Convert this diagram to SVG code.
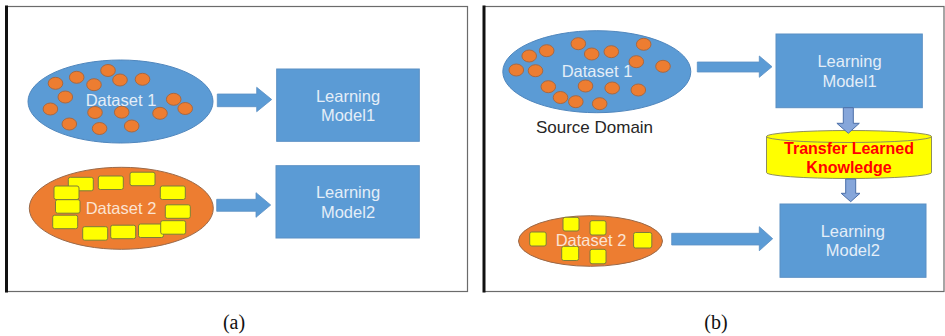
<svg xmlns="http://www.w3.org/2000/svg" width="945" height="336" viewBox="0 0 945 336">
  <style>
    .frame { fill: #ffffff; stroke: #6b6b6b; stroke-width: 1.2; }
    .frame-edge { stroke: #111111; stroke-width: 3; }
    .caption { font-family: "Liberation Serif", "Times New Roman", serif; font-size: 20px; fill: #111111; text-anchor: middle; }
    .blue { fill: #5B9BD5; stroke: #4F86BD; stroke-width: 1; }
    .orange { fill: #ED7D31; stroke: #9A6A4A; stroke-width: 1; }
    .dot { fill: #ED7D31; stroke: #A8643A; stroke-width: 0.9; }
    .chip { fill: #FFFF00; stroke: #7C7C3A; stroke-width: 1; }
    .box { fill: #5B9BD5; stroke: #5A8FC4; stroke-width: 1; }
    .label { font-family: "Liberation Sans", Arial, sans-serif; font-size: 16.5px; text-anchor: middle; }
    .on-blue { fill: #E4EEF8; }
    .on-orange { fill: #FBE3D2; }
    .dark { fill: #262626; font-size: 17px; }
    .drum { fill: #FFFF00; stroke: #8E8E5C; stroke-width: 1; }
    .red { fill: #FF0000; font-weight: bold; font-size: 16px; }
    .arrow { fill: #5B9BD5; stroke: #5B8FC4; stroke-width: 0.8; }
    .arrow-v { fill: #86A6DA; stroke: #4B6FA8; stroke-width: 1; }
  </style>

  <!-- panel frames -->
  <rect class="frame" x="6" y="6.5" width="461.5" height="285"/>
  <line class="frame-edge" x1="6.5" y1="5.5" x2="6.5" y2="292.5"/>
  <rect class="frame" x="484" y="6.5" width="460" height="285"/>
  <line class="frame-edge" x1="484" y1="5.5" x2="484" y2="292.5"/>
  <text class="caption" x="234" y="329">(a)</text>
  <text class="caption" x="716" y="329">(b)</text>

  <!-- panel (a): dataset 1 -->
  <g id="a-dataset1">
    <ellipse class="blue" cx="120.5" cy="101.5" rx="92.5" ry="41.5"/>
    <ellipse class="dot" cx="108" cy="70.5" rx="7.3" ry="6"/>
    <ellipse class="dot" cx="76.7" cy="77.3" rx="7.3" ry="6"/>
    <ellipse class="dot" cx="55.5" cy="83.3" rx="7.3" ry="6"/>
    <ellipse class="dot" cx="94" cy="84.7" rx="7.3" ry="6"/>
    <ellipse class="dot" cx="120" cy="80" rx="7.3" ry="6"/>
    <ellipse class="dot" cx="142.5" cy="79.3" rx="7.3" ry="6"/>
    <ellipse class="dot" cx="65.3" cy="97" rx="7.3" ry="6"/>
    <ellipse class="dot" cx="173.7" cy="99.3" rx="7.3" ry="6"/>
    <ellipse class="dot" cx="185.2" cy="108.5" rx="7.3" ry="6"/>
    <ellipse class="dot" cx="50.4" cy="109" rx="7.3" ry="6"/>
    <ellipse class="dot" cx="95" cy="112.5" rx="7.3" ry="6"/>
    <ellipse class="dot" cx="121.7" cy="112.2" rx="7.3" ry="6"/>
    <ellipse class="dot" cx="160" cy="113.3" rx="7.3" ry="6"/>
    <ellipse class="dot" cx="69.3" cy="124" rx="7.3" ry="6"/>
    <ellipse class="dot" cx="99.6" cy="128.5" rx="7.3" ry="6"/>
    <ellipse class="dot" cx="131.7" cy="126" rx="7.3" ry="6"/>
    <text class="label on-blue" x="121" y="106">Dataset 1</text>
  </g>

  <!-- panel (a): dataset 2 -->
  <g id="a-dataset2">
    <ellipse class="orange" cx="121.3" cy="208.3" rx="92" ry="41"/>
    <rect class="chip" x="68.3" y="177.3" width="25" height="13.5" rx="2"/>
    <rect class="chip" x="98.3" y="176" width="25" height="13.5" rx="2"/>
    <rect class="chip" x="130" y="172.2" width="25" height="13.5" rx="2"/>
    <rect class="chip" x="54" y="186" width="25" height="13.5" rx="2"/>
    <rect class="chip" x="160.3" y="186" width="25" height="13.5" rx="2"/>
    <rect class="chip" x="55.5" y="199.7" width="24.5" height="13.5" rx="2"/>
    <rect class="chip" x="165.3" y="204.8" width="25" height="13.5" rx="2"/>
    <rect class="chip" x="52.7" y="215.2" width="25" height="13.5" rx="2"/>
    <rect class="chip" x="82.7" y="226.7" width="25" height="13.5" rx="2"/>
    <rect class="chip" x="110.7" y="225.2" width="25" height="13.5" rx="2"/>
    <rect class="chip" x="138.5" y="224" width="25" height="13.5" rx="2"/>
    <rect class="chip" x="160.7" y="220.7" width="25" height="13.5" rx="2"/>
    <text class="label on-orange" x="121" y="213.5">Dataset 2</text>
  </g>

  <!-- panel (a): models -->
  <g id="a-model1">
    <rect class="box" x="276.7" y="69" width="142.6" height="72.3"/>
    <text class="label on-blue" x="348" y="101.5">Learning</text>
    <text class="label on-blue" x="348" y="121">Model1</text>
  </g>
  <g id="a-model2">
    <rect class="box" x="276" y="165.7" width="143.3" height="72.3"/>
    <text class="label on-blue" x="348" y="198.3">Learning</text>
    <text class="label on-blue" x="348" y="218">Model2</text>
  </g>

  <!-- panel (b): source dataset -->
  <g id="b-dataset1">
    <ellipse class="blue" cx="596.8" cy="71.7" rx="94" ry="41"/>
    <ellipse class="dot" cx="578.3" cy="43.7" rx="7.3" ry="6"/>
    <ellipse class="dot" cx="546.7" cy="50.7" rx="7.3" ry="6"/>
    <ellipse class="dot" cx="529.2" cy="56" rx="7.3" ry="6"/>
    <ellipse class="dot" cx="591.7" cy="54" rx="7.3" ry="6"/>
    <ellipse class="dot" cx="611.3" cy="51.7" rx="7.3" ry="6"/>
    <ellipse class="dot" cx="643.7" cy="44.3" rx="7.3" ry="6"/>
    <ellipse class="dot" cx="636.3" cy="61.7" rx="7.3" ry="6"/>
    <ellipse class="dot" cx="663" cy="66.3" rx="7.3" ry="6"/>
    <ellipse class="dot" cx="516.3" cy="70" rx="7.3" ry="6"/>
    <ellipse class="dot" cx="535.5" cy="70.7" rx="7.3" ry="6"/>
    <ellipse class="dot" cx="548.3" cy="86.7" rx="7.3" ry="6"/>
    <ellipse class="dot" cx="585.5" cy="86" rx="7.3" ry="6"/>
    <ellipse class="dot" cx="612.2" cy="88" rx="7.3" ry="6"/>
    <ellipse class="dot" cx="638.3" cy="90" rx="7.3" ry="6"/>
    <ellipse class="dot" cx="560.5" cy="97.5" rx="7.3" ry="6"/>
    <ellipse class="dot" cx="575.8" cy="101.7" rx="7.3" ry="6"/>
    <ellipse class="dot" cx="599.7" cy="103.7" rx="7.3" ry="6"/>
    <text class="label on-blue" x="597" y="76.5">Dataset 1</text>
    <text class="label dark" x="594.5" y="133.3">Source Domain</text>
  </g>

  <!-- panel (b): target dataset -->
  <g id="b-dataset2">
    <ellipse class="orange" cx="590.5" cy="241" rx="72" ry="25.3"/>
    <rect class="chip" x="529.7" y="232" width="16.5" height="14" rx="2"/>
    <rect class="chip" x="563" y="217.3" width="16" height="13.7" rx="2"/>
    <rect class="chip" x="590" y="220.7" width="16" height="14.3" rx="2"/>
    <rect class="chip" x="633.6" y="232.5" width="18.2" height="15.5" rx="2"/>
    <rect class="chip" x="561.7" y="246.3" width="17" height="14.2" rx="2"/>
    <rect class="chip" x="590" y="249.3" width="16" height="14.5" rx="2"/>
    <text class="label on-orange" x="591" y="246.3">Dataset 2</text>
  </g>

  <!-- panel (b): models and knowledge store -->
  <g id="b-model1">
    <rect class="box" x="776" y="34" width="146.3" height="73.7"/>
    <text class="label on-blue" x="849.5" y="66.7">Learning</text>
    <text class="label on-blue" x="849.5" y="86.5">Model1</text>
  </g>
  <g id="b-knowledge">
    <path class="drum" d="M766.5,136.5 L766.5,172.5 A82.5,6 0 0 0 931.5,172.5 L931.5,136.5 Z"/>
    <ellipse class="drum" cx="849" cy="136.5" rx="82.5" ry="6"/>
    <text class="label red" x="849" y="154">Transfer Learned</text>
    <text class="label red" x="849" y="172.7">Knowledge</text>
  </g>
  <g id="b-model2">
    <rect class="box" x="780" y="204" width="146" height="73.3"/>
    <text class="label on-blue" x="852.8" y="236.5">Learning</text>
    <text class="label on-blue" x="852.8" y="255.7">Model2</text>
  </g>

  <!-- connectors -->
  <g id="connectors">
    <path class="arrow" d="M217.3,94 L256.7,94 L256.7,87.3 L271.7,99.5 L256.7,111.7 L256.7,106.7 L217.3,106.7 Z"/>
    <path class="arrow" d="M216.7,199.3 L256,199.3 L256,192.7 L270.7,205 L256,217.3 L256,211.3 L216.7,211.3 Z"/>
    <path class="arrow" d="M697.3,62 L759.3,62 L759.3,56 L772,66.7 L759.3,77.3 L759.3,72 L697.3,72 Z"/>
    <path class="arrow" d="M671.7,233.3 L759.3,233.3 L759.3,226.7 L772.7,238.7 L759.3,250.7 L759.3,245 L671.7,245 Z"/>
    <path class="arrow-v" d="M843.3,107.7 L853.3,107.7 L853.3,123.3 L859.3,123.3 L848.3,133.3 L836.9,123.3 L843.3,123.3 Z"/>
    <path class="arrow-v" d="M845.7,179 L855.7,179 L855.7,193.3 L860,193.3 L850.7,201.7 L841.2,193.3 L845.7,193.3 Z"/>
  </g>
</svg>
